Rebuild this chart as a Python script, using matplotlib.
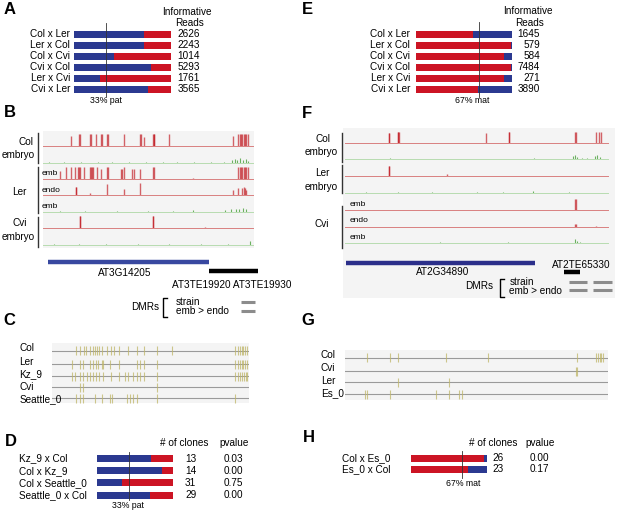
import matplotlib
matplotlib.use('Agg')
import matplotlib.pyplot as plt
from matplotlib.transforms import blended_transform_factory as btf
from matplotlib.patches import Rectangle
from matplotlib.lines import Line2D

plt.rcParams['font.family'] = ['Liberation Sans', 'DejaVu Sans']

# ---------------- data ----------------
crossesA = ["Col x Ler", "Ler x Col", "Col x Cvi", "Cvi x Col", "Ler x Cvi", "Cvi x Ler"]
readsA = [2626, 2243, 1014, 5293, 1761, 3565]
blueA = [0.72, 0.72, 0.41, 0.79, 0.27, 0.76]
refA = 0.33

crossesE = ["Col x Ler", "Ler x Col", "Col x Cvi", "Cvi x Col", "Ler x Cvi", "Cvi x Ler"]
readsE = [1645, 579, 584, 7484, 271, 3890]
redE = [0.60, 0.985, 0.92, 0.985, 0.92, 0.65]
refE = 0.655

crossesD = ["Kz_9 x Col", "Col x Kz_9", "Col x Seattle_0", "Seattle_0 x Col"]
clonesD = [13, 14, 31, 29]
pvalD = ["0.03", "0.00", "0.75", "0.00"]
blueD = [0.72, 0.86, 0.33, 0.70]
refD = 0.425

crossesH = ["Col x Es_0", "Es_0 x Col"]
clonesH = [26, 23]
pvalH = ["0.00", "0.17"]
redH = [0.965, 0.75]
refH = 0.67

# methylation tracks, (position %, relative height)
tracksB = [
    ("red", [(13.5, .8), (17.1, 1), (17.6, 1), (22.5, 1), (22.8, 1), (25.1, 1), (27.6, 1), (27.9, 1),
             (30.6, 1), (30.9, 1), (38.6, 1), (46.0, 1), (46.5, 1), (48.1, .7), (52.4, 1), (52.7, 1),
             (53.0, 1), (60.0, 1), (90.5, .8), (93.0, 1), (93.7, 1), (94.3, 1), (94.9, 1), (95.6, 1),
             (96.2, 1), (96.8, 1), (97.5, 1)]),
    ("green", [(3, .06), (10, .05), (18, .07), (26, .05), (33, .06), (41, .05), (49, .06), (57, .05),
               (64, .06), (72, .05), (80, .06), (86, .05), (90.2, .25), (91.5, .3), (92.5, .2),
               (93.8, .35), (95.3, .25), (96.5, .3), (97.5, .15)]),
    ("red", [(7.9, .7), (11.1, 1), (13.5, 1), (15.1, 1), (16.8, 1), (17.3, 1), (17.6, 1), (19.5, 1),
             (22.2, 1), (22.7, 1), (23.2, 1), (23.8, 1), (25.7, 1), (27.8, .8), (30.6, 1), (31.1, 1),
             (37.0, .8), (37.5, .8), (38.6, 1), (42.5, .8), (43.2, .8), (46.0, .8), (52.4, 1),
             (52.9, 1), (71.4, .1), (93.0, 1), (93.7, 1), (94.3, 1), (94.9, 1), (95.6, 1), (96.2, 1),
             (96.8, 1), (97.5, 1)]),
    ("red", [(15.6, .7), (15.8, .7), (22.2, .2), (30.6, .95), (38.6, .55), (46.3, 1.0), (90.5, .4),
             (92.9, .6), (94.9, .6), (95.6, .7), (96.2, .6), (96.8, .4)]),
    ("green", [(8, .05), (20, .05), (35, .05), (50, .05), (62, .05), (71.4, .1), (86.5, .15),
               (89.7, .2), (92, .25), (93.5, .2), (95.2, .3), (96.8, .25)]),
    ("red", [(17.4, 1), (17.6, 1), (52.4, 1), (52.6, 1), (77.0, .15)]),
    ("green", [(5, .05), (17, .08), (30, .05), (45, .05), (60, .05), (75, .05), (88, .06), (98.4, .35)]),
]
tracksF = [
    ("red", [(16.7, .85), (16.9, .85), (20.0, 1), (20.3, 1), (20.5, 1), (53.8, .9), (62.2, 1),
             (62.4, 1), (87.5, 1), (87.7, 1), (95.6, 1), (96.5, 1), (97.2, 1)]),
    ("green", [(5, .05), (12, .06), (17, .1), (25, .05), (35, .05), (45, .05), (55, .06), (62, .05),
               (72, .08), (86.7, .3), (87.3, .4), (88.2, .25), (90, .1), (92, .12), (94.9, .3),
               (95.8, .4), (96.8, .2)]),
    ("red", [(16.7, .9), (16.9, .9), (38.9, .2)]),
    ("green", [(8, .05), (20, .05), (33, .05), (50, .05), (60, .05), (71.3, .2), (85, .05)]),
    ("red", [(87.5, 1), (87.7, 1)]),
    ("red", [(87.5, .25), (87.7, .25), (95.5, .08)]),
    ("green", [(10, .05), (22, .05), (36.1, .15), (50, .05), (62, .08), (87.3, .35), (88.2, .2),
               (89.3, .15)]),
]

geneB = (2.4, 79.0)
teB = (79.0, 102.4)
dmrB = [(94.3, 100.9)]
geneF = (0.4, 72.4)
teF = (83.1, 89.4)
dmrF = [(85.2, 92.0), (94.3, 101.5)]

rowsC = ["Col", "Ler", "Kz_9", "Cvi", "Seattle_0"]
marksC = [
    [12.3, 14.3, 16.4, 17.4, 19.4, 20.7, 22.1, 23.1, 24.1, 25.3, 27.8, 29.8, 31.5, 34.2, 38.8, 43.0,
     46.7, 53.1, 60.7, 92.7, 94.4, 95.3, 96.1, 97.0, 97.8, 98.7],
    [10.1, 14.3, 16.0, 19.4, 21.1, 22.4, 23.6, 25.3, 26.1, 29.5, 34.2, 43.0, 44.7, 46.7, 53.1, 92.7,
     94.4, 95.3, 96.1, 97.0, 97.8, 98.7],
    [10.1, 11.8, 14.3, 15.7, 17.7, 19.4, 20.7, 22.4, 24.1, 25.8, 29.8, 34.2, 37.1, 38.8, 41.0, 43.0,
     44.7, 46.7, 53.1, 92.7, 94.4, 95.3, 96.1, 97.3, 98.3, 99.0],
    [14.3, 15.7, 53.1],
    [12.3, 14.3, 16.0, 21.9, 25.3, 29.5, 30.4, 37.9, 39.6, 41.3, 43.0, 53.1, 92.7],
]
rowsG = ["Col", "Cvi", "Ler", "Es_0"]
marksG = [
    [8.2, 17.1, 20.3, 38.4, 54.4, 88.2, 95.6, 96.2, 96.8, 97.5, 98.1],
    [88.0, 88.4],
    [20.3, 39.6],
    [7.6, 8.5, 17.1, 34.6, 39.6, 43.4, 44.3],
]

BLUE = '#2b3990'
RED = '#cc1424'

# ---------------- helpers ----------------
W, H = 617, 516
fig = plt.figure(figsize=(W / 100, H / 100), dpi=100)


def ax_px(x0, y0, x1, y1):
    ax = fig.add_axes([x0 / W, 1 - y1 / H, (x1 - x0) / W, (y1 - y0) / H])
    ax.set_axis_off()
    return ax


def txt(x, y, s, **kw):
    kw.setdefault('fontsize', 7.2)
    kw.setdefault('va', 'center')
    fig.text(x / W, 1 - y / H, s, **kw)


def bg(x0, y0, x1, y1, color='#f4f4f4'):
    fig.patches.append(Rectangle((x0 / W, 1 - y1 / H), (x1 - x0) / W, (y1 - y0) / H,
                                 transform=fig.transFigure, facecolor=color, edgecolor='none', zorder=-5))


def fline(xs, ys, **kw):
    fig.add_artist(Line2D([x / W for x in xs], [1 - y / H for y in ys], transform=fig.transFigure, **kw))


def bar_panel(x0, x1, yc0, step, barh_px, fracs, cleft, cright, ref, ry0, ry1):
    n = len(fracs)
    ax = ax_px(x0, yc0 - step / 2, x1, yc0 + (n - 0.5) * step)
    ax.set_xlim(0, 1)
    ax.set_ylim(n - 0.5, -0.5)
    idx = list(range(n))
    hh = barh_px / step
    ax.barh(idx, fracs, height=hh, color=cleft, linewidth=0)
    ax.barh(idx, [1 - f for f in fracs], left=fracs, height=hh, color=cright, linewidth=0)
    ax.plot([ref, ref], [(ry0 - yc0) / step, (ry1 - yc0) / step], color='#333333', lw=0.6,
            clip_on=False, zorder=5)
    return ax, btf(ax.transAxes, ax.transData)


def axfrac(px, x0, x1):
    return (px - x0) / (x1 - x0)


def draw_tracks(x0, x1, baselines, hpx, tracks):
    for b, (kind, pts) in zip(baselines, tracks):
        ax = ax_px(x0, b - hpx, x1, b)
        ax.set_xlim(0, 100)
        ax.set_ylim(0, 1)
        if kind == 'red':
            ax.axhline(0, color='#d98080', lw=0.7, clip_on=False)
            ax.vlines([p for p, _ in pts], 0, [h for _, h in pts], color='#c0141c', alpha=0.65, lw=1.0)
        else:
            ax.axhline(0, color='#b8dcb0', lw=0.7, clip_on=False)
            ax.vlines([p for p, _ in pts], 0, [h for _, h in pts], color='#4aa03c', alpha=0.8, lw=0.8)


def draw_rows(x0, x1, line_ys, marks):
    for y, m in zip(line_ys, marks):
        ax = ax_px(x0, y - 5.5, x1, y + 5.5)
        ax.set_xlim(0, 100)
        ax.set_ylim(-1, 1)
        ax.axhline(0, color='#9a9a9a', lw=0.8)
        ax.vlines(m, -0.85, 0.8, color='#bfb668', alpha=0.75, lw=0.8)


# ---------------- panel letters ----------------
for L, x, y in [("A", 4, 10), ("B", 3.5, 112.5), ("C", 3.5, 320.7), ("D", 5, 441.7),
                ("E", 301.5, 10), ("F", 302, 113), ("G", 301.5, 320.7), ("H", 303, 438)]:
    txt(x, y, L, fontsize=12, fontweight='bold', ha='left')

# ---------------- Panel A ----------------
x0, x1 = 74, 171
ax, tr = bar_panel(x0, x1, 34, 11, 7, blueA, BLUE, RED, refA, 23, 97)
for i, (c, r) in enumerate(zip(crossesA, readsA)):
    ax.text(axfrac(70, x0, x1), i, c, transform=tr, ha='right', va='center', fontsize=7.2)
    ax.text(axfrac(200, x0, x1), i, str(r), transform=tr, ha='right', va='center', fontsize=7.2)
txt(187, 12, "Informative", ha='center')
txt(189, 23, "Reads", ha='center')
txt(106, 100.5, "33% pat", ha='center', fontsize=6.3)

# ---------------- Panel E ----------------
x0, x1 = 415.7, 512
ax, tr = bar_panel(x0, x1, 34, 11, 7, redE, RED, BLUE, refE, 22.3, 97)
for i, (c, r) in enumerate(zip(crossesE, readsE)):
    ax.text(axfrac(410, x0, x1), i, c, transform=tr, ha='right', va='center', fontsize=7.2)
    ax.text(axfrac(540, x0, x1), i, str(r), transform=tr, ha='right', va='center', fontsize=7.2)
txt(528, 11.5, "Informative", ha='center')
txt(530, 22.5, "Reads", ha='center')
txt(472, 100.5, "67% mat", ha='center', fontsize=6.3)

# ---------------- Panel D ----------------
x0, x1 = 96.7, 172.7
ax, tr = bar_panel(x0, x1, 458.5, 12.2, 7, blueD, BLUE, RED, refD, 451.5, 500)
for i, (c, n, p) in enumerate(zip(crossesD, clonesD, pvalD)):
    ax.text(axfrac(19.3, x0, x1), i, c, transform=tr, ha='left', va='center', fontsize=7.2)
    ax.text(axfrac(190.7, x0, x1), i, str(n), transform=tr, ha='center', va='center', fontsize=7.2)
    ax.text(axfrac(233.3, x0, x1), i, p, transform=tr, ha='center', va='center', fontsize=7.2)
txt(184.2, 442.7, "# of clones", ha='center')
txt(234.5, 442.7, "pvalue", ha='center')
txt(127.5, 505.7, "33% pat", ha='center', fontsize=6.3)

# ---------------- Panel H ----------------
x0, x1 = 410.7, 486.7
ax, tr = bar_panel(x0, x1, 458.3, 11, 7, redH, RED, BLUE, refH, 450.7, 478.3)
for i, (c, n, p) in enumerate(zip(crossesH, clonesH, pvalH)):
    ax.text(axfrac(341.7, x0, x1), i, c, transform=tr, ha='left', va='center', fontsize=7.2)
    ax.text(axfrac(498, x0, x1), i, str(n), transform=tr, ha='center', va='center', fontsize=7.2)
    ax.text(axfrac(539, x0, x1), i, p, transform=tr, ha='center', va='center', fontsize=7.2)
txt(493, 442.7, "# of clones", ha='center')
txt(540.3, 442.7, "pvalue", ha='center')
txt(463.3, 483.3, "67% mat", ha='center', fontsize=6.3)

# ---------------- Panel B ----------------
bg(42.7, 131, 254, 248)
draw_tracks(43, 253, [145.7, 162.5, 179, 195.3, 211.5, 228.3, 245], 12, tracksB)
for ys in [(132.7, 163.3), (166.7, 212.7), (216.7, 246.7)]:
    fline([38, 38], ys, color='#333333', lw=1.0)
txt(25.5, 142.3, "Col", ha='center')
txt(18.5, 155, "embryo", ha='center')
txt(19.5, 191.7, "Ler", ha='center')
txt(19.5, 222.7, "Cvi", ha='center')
txt(18.5, 237, "embryo", ha='center')
txt(41.5, 173.3, "emb", ha='left', fontsize=6)
txt(41.5, 190.7, "endo", ha='left', fontsize=6)
txt(41.5, 206, "emb", ha='left', fontsize=6)
axg = ax_px(43, 255, 253, 320)
axg.set_xlim(0, 100)
axg.set_ylim(65, 0)
axg.plot(geneB, [7.3, 7.3], color='#3848a0', lw=3.2, solid_capstyle='butt', clip_on=False)
axg.plot(teB, [16, 16], color='black', lw=3.2, solid_capstyle='butt', clip_on=False)
for a, b in dmrB:
    axg.plot([a, b], [47, 47], color='#8c8c8c', lw=2.2, solid_capstyle='butt', clip_on=False)
    axg.plot([a, b], [56, 56], color='#8c8c8c', lw=2.2, solid_capstyle='butt', clip_on=False)
txt(125, 273.3, "AT3G14205", ha='center')
txt(232, 284.5, "AT3TE19920 AT3TE19930", ha='center')
txt(144.7, 306.5, "DMRs", ha='center')
fline([167, 163, 163, 167], [298, 298, 316.7, 316.7], color='black', lw=1.0)
txt(175.7, 302, "strain", ha='left')
txt(175.7, 311, "emb > endo", ha='left')

# ---------------- Panel F ----------------
bg(343, 128, 615, 298)
draw_tracks(345, 608, [142.7, 159.3, 176, 192.7, 210, 226.7, 243.3], 11, tracksF)
for ys in [(133, 161.7), (165, 193.3), (206, 248.3)]:
    fline([342.3, 342.3], ys, color='#333333', lw=1.0)
txt(323.3, 139.3, "Col", ha='center')
txt(321, 151.7, "embryo", ha='center')
txt(322.5, 173.3, "Ler", ha='center')
txt(321, 186.7, "embryo", ha='center')
txt(321.7, 224.3, "Cvi", ha='center')
txt(350, 205, "emb", ha='left', fontsize=6)
txt(350, 221, "endo", ha='left', fontsize=6)
txt(350, 237.3, "emb", ha='left', fontsize=6)
axg = ax_px(345, 255, 608, 300)
axg.set_xlim(0, 100)
axg.set_ylim(45, 0)
axg.plot(geneF, [8.3, 8.3], color='#2b2f8a', lw=3.2, solid_capstyle='butt', clip_on=False)
axg.plot(teF, [16.7, 16.7], color='black', lw=3.2, solid_capstyle='butt', clip_on=False)
for a, b in dmrF:
    axg.plot([a, b], [26.7, 26.7], color='#8c8c8c', lw=2.2, solid_capstyle='butt', clip_on=False)
    axg.plot([a, b], [35, 35], color='#8c8c8c', lw=2.2, solid_capstyle='butt', clip_on=False)
txt(443, 271.7, "AT2G34890", ha='center')
txt(581.7, 265, "AT2TE65330", ha='center')
txt(479.2, 286, "DMRs", ha='center')
fline([504, 500, 500, 504], [279.3, 279.3, 296.7, 296.7], color='black', lw=1.0)
txt(509.3, 281.7, "strain", ha='left')
txt(509.3, 291.2, "emb > endo", ha='left')

# ---------------- Panel C ----------------
bg(51.7, 343, 249.3, 403.3)
ysC = [350.7, 364, 376, 387.3, 398.3]
draw_rows(51.7, 249.3, ysC, marksC)
for name, y in zip(rowsC, [348.3, 361.7, 374.3, 386.7, 399.3]):
    txt(19.3, y, name, ha='left')

# ---------------- Panel G ----------------
bg(345, 350, 608, 400)
ysG = [357.7, 371, 382.3, 394.3]
draw_rows(345, 608, ysG, marksG)
for name, y in zip(rowsG, [355, 367.7, 381, 392.7]):
    txt(320.7, y, name, ha='left')

fig.savefig('out.png', dpi=100)
